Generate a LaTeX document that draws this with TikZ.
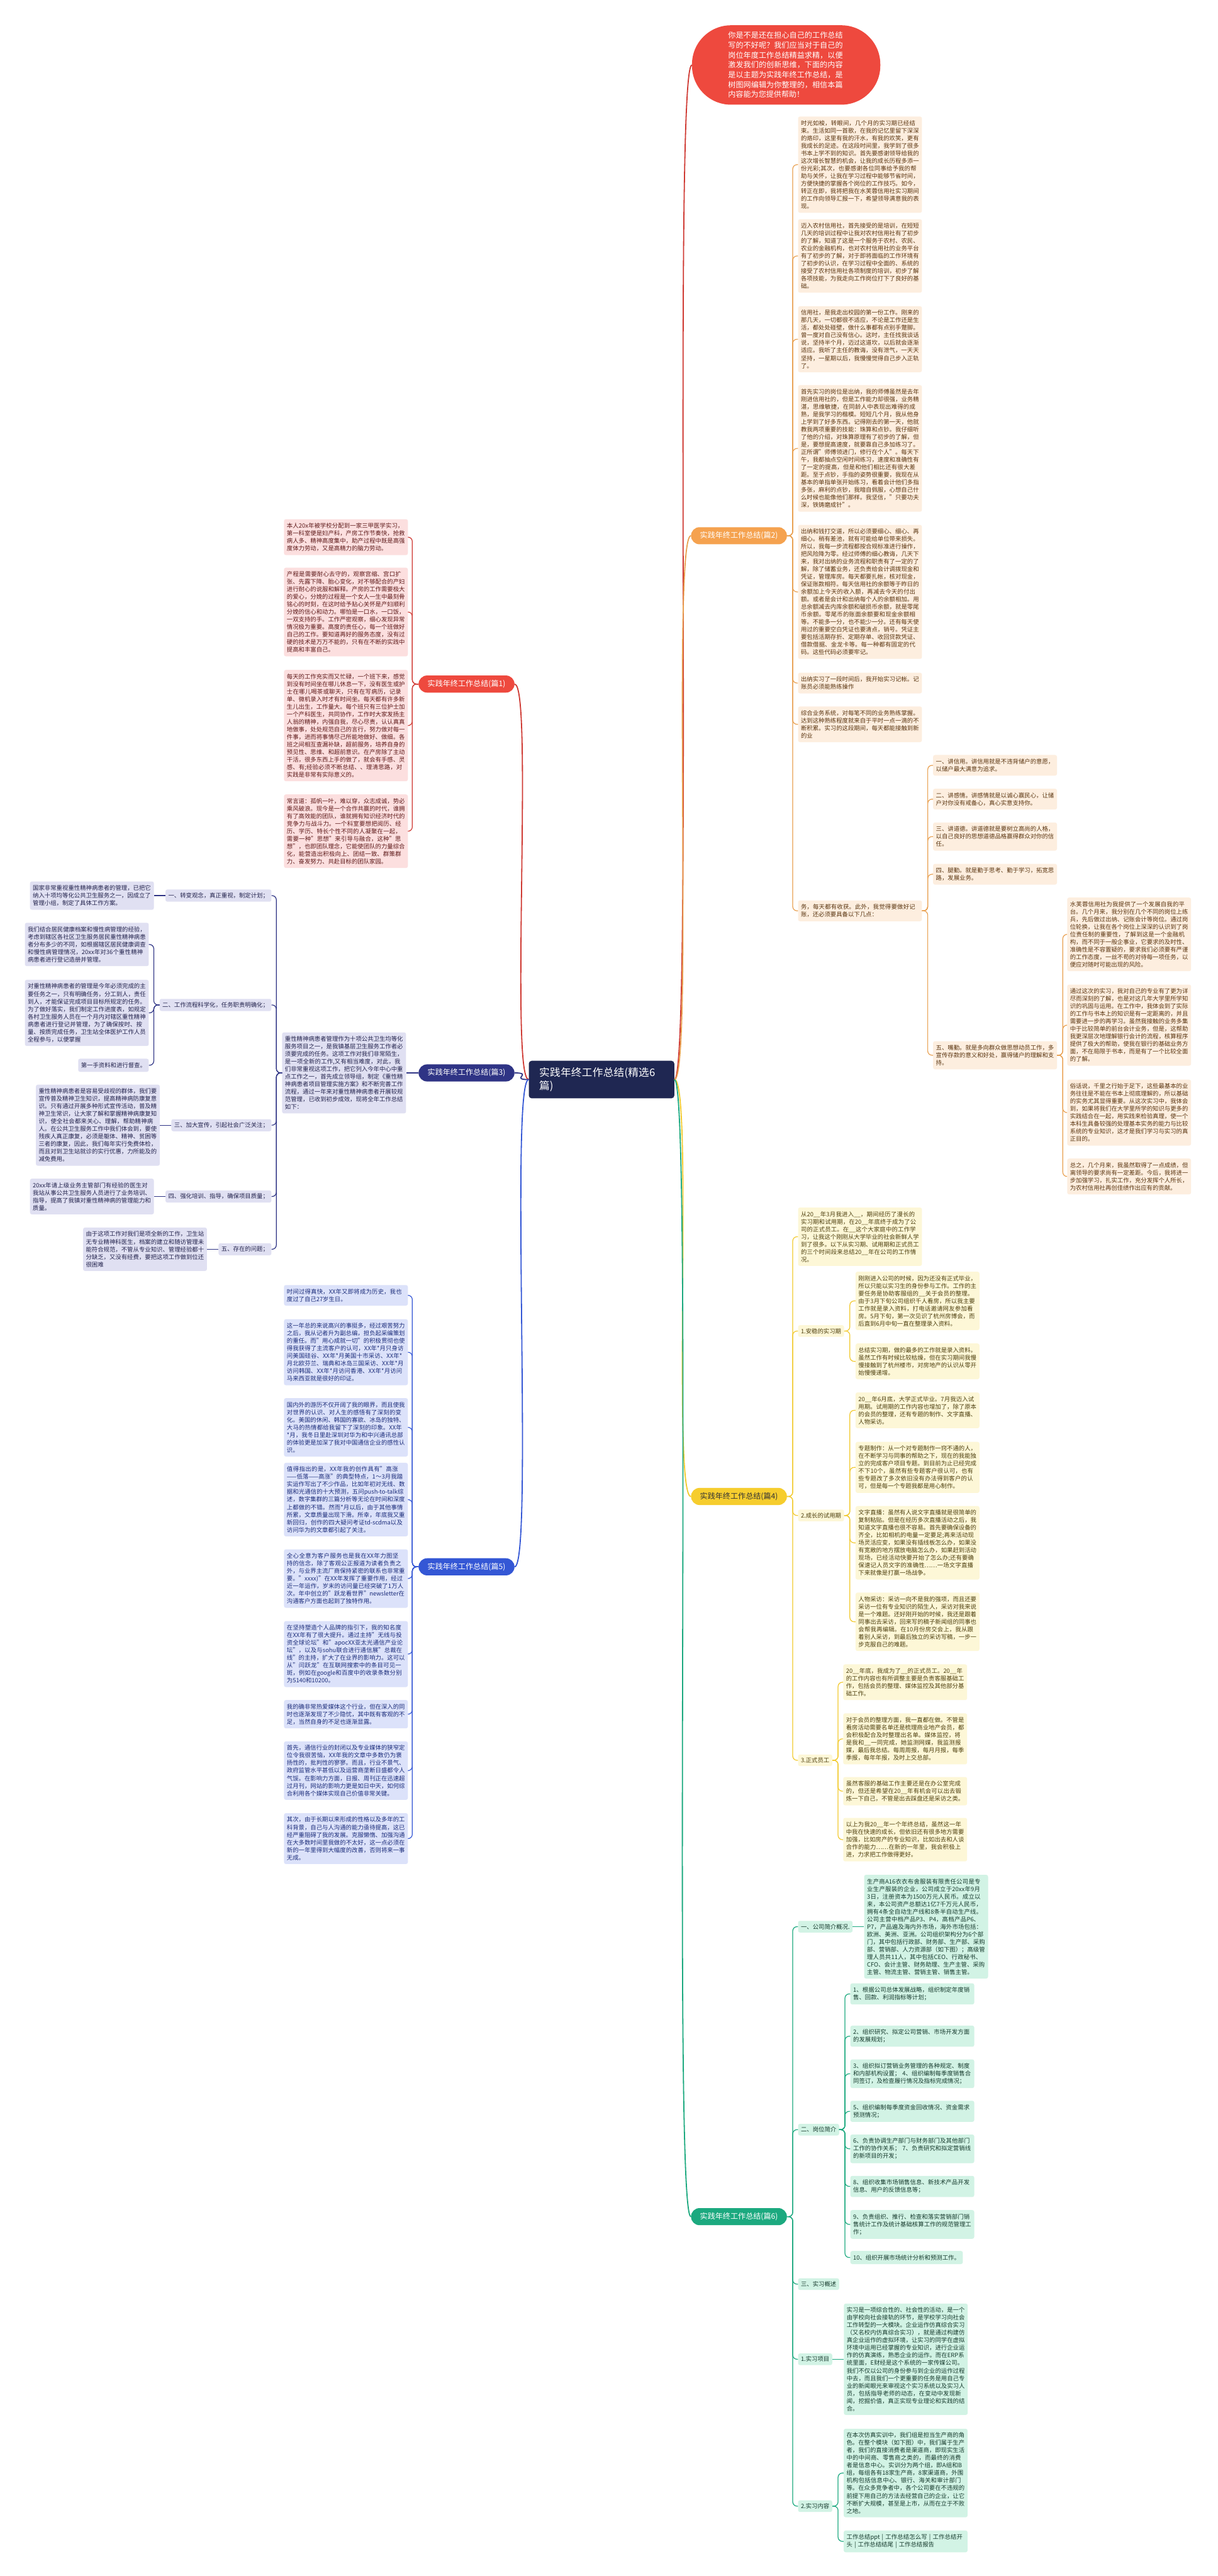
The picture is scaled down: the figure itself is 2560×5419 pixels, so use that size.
\documentclass[tikz,border=0pt]{standalone}
\usepackage{fontspec}
\setmainfont{Noto Sans CJK SC}
\XeTeXlinebreaklocale "zh"
\XeTeXlinebreakskip=0pt plus 1pt
\usetikzlibrary{positioning}

\definecolor{rootfill}{HTML}{1F2752}
\definecolor{redfill}{HTML}{EE493E}
\definecolor{redline}{HTML}{CF3A33}
\definecolor{pinkfill}{HTML}{FCDFDF}
\definecolor{pinktext}{HTML}{5E1A1A}
\definecolor{orangefill}{HTML}{F5A24F}
\definecolor{orangeline}{HTML}{E9A050}
\definecolor{peachfill}{HTML}{FDEEDF}
\definecolor{peachtext}{HTML}{5A3510}
\definecolor{navyfill}{HTML}{2F3485}
\definecolor{navyline}{HTML}{2F3485}
\definecolor{lavfill}{HTML}{E0E0F2}
\definecolor{lavtext}{HTML}{23234D}
\definecolor{bluefill}{HTML}{3457D5}
\definecolor{blueline}{HTML}{3457D5}
\definecolor{skyfill}{HTML}{DCE2FA}
\definecolor{skytext}{HTML}{1B2C7A}
\definecolor{yellowfill}{HTML}{F6CD2E}
\definecolor{yellowline}{HTML}{F2CA2E}
\definecolor{creamfill}{HTML}{FDF7D7}
\definecolor{creamtext}{HTML}{4D3F0E}
\definecolor{greenfill}{HTML}{1CA97F}
\definecolor{greenline}{HTML}{1CA97F}
\definecolor{mintfill}{HTML}{D2F3E5}
\definecolor{minttext}{HTML}{163A2D}

\newcommand{\leaffont}{\fontsize{12.4pt}{15.9pt}\selectfont}
\newcommand{\branchfont}{\fontsize{16pt}{19pt}\selectfont}
\newcommand{\rootfont}{\fontsize{22pt}{28pt}\selectfont}
\newcommand{\introfont}{\fontsize{16pt}{20.7pt}\selectfont}

\begin{document}
\begin{tikzpicture}[x=1pt, y=-1pt,
    leaf/.style={rounded corners=4pt, inner xsep=6pt, inner ysep=8pt, text width=248.5pt, align=left, font=\leaffont},
    tag/.style={rounded corners=4pt, inner xsep=6pt, inner ysep=6.5pt, font=\leaffont},
    branch/.style={rounded corners=18pt, minimum height=36pt, inner xsep=19pt, font=\branchfont, text=white},
    link/.style={line width=1.6pt, rounded corners=9pt},
    mainlink/.style={line width=2.4pt},
    pinkleaf/.style={leaf, fill=pinkfill, text=pinktext},
    peachleaf/.style={leaf, fill=peachfill, text=peachtext},
    lavleaf/.style={leaf, fill=lavfill, text=lavtext},
    lavtag/.style={tag, fill=lavfill, text=lavtext},
    skyleaf/.style={leaf, fill=skyfill, text=skytext},
    creamleaf/.style={leaf, fill=creamfill, text=creamtext},
    creamtag/.style={tag, fill=creamfill, text=creamtext},
    mintleaf/.style={leaf, fill=mintfill, text=minttext},
    minttag/.style={tag, fill=mintfill, text=minttext}]

\useasboundingbox (0,0) rectangle (2560,5419);
\fill[white] (0,0) rectangle (2560,5419);

% root and intro
\node[fill=rootfill, text=white, rounded corners=6pt, inner xsep=22pt, inner ysep=14pt, text width=262pt, align=left, font=\rootfont] (root) at (1265,2271) {实践年终工作总结(精选6篇)};
\node[fill=redfill, text=white, rounded corners=82pt, inner xsep=76pt, inner ysep=14pt, text width=244pt, align=left, font=\introfont, anchor=north west] (intro) at (1455,53) {你是不是还在担心自己的工作总结写的不好呢？我们应当对于自己的岗位年度工作总结精益求精，以便激发我们的创新思维，下面的内容是以主题为实践年终工作总结，是树图网编辑为你整理的，相信本篇内容能为您提供帮助！};

% branch nodes
\node[branch, fill=orangefill, anchor=east] (p2) at (1655,1127) {实践年终工作总结(篇2)};
\node[branch, fill=yellowfill, text=black!80, anchor=east] (p4) at (1655,3148) {实践年终工作总结(篇4)};
\node[branch, fill=greenfill, anchor=east] (p6) at (1655,4663) {实践年终工作总结(篇6)};
\node[branch, fill=redfill, anchor=west] (p1) at (880,1439) {实践年终工作总结(篇1)};
\node[branch, fill=navyfill, anchor=west] (p3) at (880,2257) {实践年终工作总结(篇3)};
\node[branch, fill=bluefill, anchor=west] (p5) at (880,3296) {实践年终工作总结(篇5)};

% piece 2
\node[peachleaf, anchor=north west] (o1) at (1678,245) {时光如梭，转眼间，几个月的实习期已经结束。生活如同一首歌，在我的记忆里留下深深的烙印，这里有我的汗水，有我的欢笑，更有我成长的足迹。在这段时间里，我学到了很多书本上学不到的知识。首先要感谢领导给我的这次增长智慧的机会，让我的成长历程多添一份光彩;其次，也要感谢各位同事给予我的帮助与关怀，让我在学习过程中能够节省时间，方便快捷的掌握各个岗位的工作技巧。如今，转正在即，我将把我在水芙蓉信用社实习期间的工作向领导汇报一下，希望领导满意我的表现。};
\node[peachleaf, anchor=north west] (o2) at (1678,461) {迈入农村信用社，首先接受的是培训，在短短几天的培训过程中让我对农村信用社有了初步的了解，知道了这是一个服务于农村、农民、农业的金融机构，也对农村信用社的业务平台有了初步的了解，对于即将面临的工作环境有了初步的认识，在学习过程中全面的、系统的接受了农村信用社各项制度的培训，初步了解各项技能，为我走向工作岗位打下了良好的基础。};
\node[peachleaf, anchor=north west] (o3) at (1678,644) {信用社，是我走出校园的第一份工作。刚来的那几天，一切都很不适应，不论是工作还是生活，都处处碰壁，做什么事都有点别手蹩脚。曾一度对自己没有信心。这时，主任找我谈话说，坚持半个月，迈过这道坎，以后就会逐渐适应。我听了主任的教诲，没有泄气，一天天坚持，一星期以后，我慢慢觉得自己步入正轨了。};
\node[peachleaf, anchor=north west] (o4) at (1678,810) {首先实习的岗位是出纳，我的师傅虽然是去年刚进信用社的，但是工作能力却很强，业务精湛，思维敏捷，在同龄人中表现出难得的成熟，是我学习的楷模。短短几个月，我从他身上学到了好多东西。记得刚去的第一天，他就教我两项重要的技能：珠算和点钞。我仔细听了他的介绍，对珠算原理有了初步的了解，但是，要想提高速度，就要靠自己多加练习了。正所谓"师傅领进门，修行在个人"。每天下午，我都抽点空闲时间练习，速度和准确性有了一定的提高，但是和他们相比还有很大差距。至于点钞，手指的姿势很重要，我现在从基本的单指单张开始练习，看着会计他们多指多张，麻利的点钞，我暗自佩服，心想自己什么时候也能像他们那样。我坚信，"只要功夫深，铁铸磨成针"。};
\node[peachleaf, anchor=north west] (o5) at (1678,1104) {出纳和钱打交道，所以必须要细心、细心、再细心。稍有差池，就有可能给单位带来损失。所以，我每一步流程都按合规标准进行操作，把风险降为零。经过师傅的细心教诲，几天下来，我对出纳的业务流程和职责有了一定的了解，除了储蓄业务，还负责给会计调拨现金和凭证，管理库房。每天都要扎帐，核对现金，保证账款相符。每天信用社的余额等于昨日的余额加上今天的收入额，再减去今天的付出额。或者是会计和出纳每个人的余额相加。用总余额减去内库余额和破损币余额，就是零尾币余额。零尾币的账面余额要和现金余额相等。不能多一分，也不能少一分。还有每天使用过的重要空白凭证也要清点，销号。凭证主要包括活期存折、定期存单、收回贷款凭证、借款借据、金龙卡等。每一种都有固定的代码。这些代码必须要牢记。};
\node[peachleaf, anchor=north west] (o6) at (1678,1415) {出纳实习了一段时间后，我开始实习记帐。记账员必须能熟练操作};
\node[peachleaf, anchor=north west] (o7) at (1678,1486) {综合业务系统，对每笔不同的业务熟练掌握。达到这种熟练程度就来自于平时一点一滴的不断积累。实习的这段期间，每天都能接触到新的业};
\node[peachleaf, anchor=north west] (o8) at (1678,1894) {务，每天都有收获。此外，我觉得要做好记账，还必须要具备以下几点：};
\node[peachleaf, anchor=north west] (oa) at (1962,1588) {一、讲信用。讲信用就是不违背储户的意愿，以储户最大满意为追求。};
\node[peachleaf, anchor=north west] (ob) at (1962,1659) {二、讲感情。讲感情就是以诚心赢民心，让储户对你没有戒备心，真心实意支持你。};
\node[peachleaf, anchor=north west] (oc) at (1962,1730) {三、讲道德。讲道德就是要树立高尚的人格，以自己良好的思想道德品格赢得群众对你的信任。};
\node[peachleaf, anchor=north west] (od) at (1962,1817) {四、腿勤。就是勤于思考、勤于学习，拓宽思路，发展业务。};
\node[peachleaf, anchor=north west] (oe) at (1962,2190) {五、嘴勤。就是多向群众做思想动员工作，多宣传存款的意义和好处，赢得储户的理解和支持。};
\node[peachleaf, anchor=north west] (oe1) at (2244,1888) {水芙蓉信用社为我提供了一个发展自我的平台。几个月来，我分别在几个不同的岗位上练兵，先后做过出纳、记账会计等岗位。通过岗位轮换，让我在各个岗位上深深的认识到了岗位责任制的重要性，了解到这是一个金融机构，而不同于一般企事业，它要求的及时性、准确性是不容置疑的，要求我们必须要有严谨的工作态度，一丝不苟的对待每一项任务，以便应对随时可能出现的风险。};
\node[peachleaf, anchor=north west] (oe2) at (2244,2071) {通过这次的实习，我对自己的专业有了更为详尽而深刻的了解，也是对这几年大学里所学知识的巩固与运用。在工作中，我体会到了实际的工作与书本上的知识是有一定距离的，并且需要进一步的再学习。虽然我接触的业务多集中于比较简单的前台会计业务，但是，这帮助我更深层次地理解银行会计的流程，核算程序提供了极大的帮助，使我在银行的基础业务方面，不在局限于书本，而是有了一个比较全面的了解。};
\node[peachleaf, anchor=north west] (oe3) at (2244,2271) {俗话说，千里之行始于足下，这些最基本的业务往往是不能在书本上彻底理解的，所以基础的实务尤其显得重要。从这次实习中，我体会到，如果将我们在大学里所学的知识与更多的实践结合在一起，用实践来检验真理，使一个本科生具备较强的处理基本实务的能力与比较系统的专业知识，这才是我们学习与实习的真正目的。};
\node[peachleaf, anchor=north west] (oe4) at (2244,2437) {总之，几个月来，我虽然取得了一点成绩，但离领导的要求尚有一定差距。今后，我将进一步加强学习，扎实工作，充分发挥个人所长，为农村信用社再创佳绩作出应有的贡献。};

% piece 4
\node[creamleaf, anchor=north west] (y0) at (1678,2540) {从20\_\_年3月我进入\_\_，期间经历了漫长的实习期和试用期，在20\_\_年底终于成为了公司的正式员工。在\_\_这个大家庭中的工作学习，让我这个刚刚从大学毕业的社会新鲜人学到了很多。以下从实习期、试用期和正式员工的三个时间段来总结20\_\_年在公司的工作情况。};
\node[creamtag, anchor=west] (y1) at (1678,2800) {1.安稳的实习期};
\node[creamleaf, anchor=north west] (y11) at (1799,2675) {刚刚进入公司的时候，因为还没有正式毕业，所以只能以实习生的身份参与工作。工作的主要任务是协助客服组的\_\_关于会员的整理。由于3月下旬公司组织千人看房，所以我主要工作就是录入资料，打电话邀请网友参加看房。5月下旬，第一次见识了杭州房博会，而后直到6月中旬一直在整理录入资料。};
\node[creamleaf, anchor=north west] (y12) at (1799,2826) {总结实习期，做的最多的工作就是录入资料。虽然工作有时候比较枯燥，但在实习期间我慢慢接触到了杭州楼市，对房地产的认识从零开始慢慢递增。};
\node[creamtag, anchor=west] (y2) at (1678,3188) {2.成长的试用期};
\node[creamleaf, anchor=north west] (y21) at (1799,2929) {20\_\_年6月底，大学正式毕业。7月我迈入试用期。试用期的工作内容也增加了，除了原本的会员的整理，还有专题的制作、文字直播、人物采访。};
\node[creamleaf, anchor=north west] (y22) at (1799,3033) {专题制作：从一个对专题制作一窍不通的人，在不断学习与同事的帮助之下，现在的我能独立的完成客户项目专题。到目前为止已经完成不下10个，虽然有些专题客户很认可，也有些专题改了多次依旧没有办法得到客户的认可，但是每一个专题我都是用心制作。};
\node[creamleaf, anchor=north west] (y23) at (1799,3168) {文字直播：虽然有人说文字直播就是很简单的复制粘贴。但是在经历多次直播活动之后，我知道文字直播也很不容易。首先要确保设备的齐全，比如相机的电量一定要足;再来活动现场灵活应变，如果没有插线板怎么办，如果没有宽敞的地方摆放电脑怎么办，如果赶到活动现场，已经活动快要开始了怎么办;还有要确保速记人员文字的准确性……一场文字直播下来就像是打赢一场战争。};
\node[creamleaf, anchor=north west] (y24) at (1799,3350) {人物采访：采访一向不是我的强项，而且还要采访一位有专业知识的陌生人，采访对我来说是一个难题。还好刚开始的时候，我还是跟着同事出去采访，回来写的稿子新闻组的同事也会帮我再编辑。在10月份房交会上，我从跟着别人采访，到最后独立的采访写稿，一步一步克服自己的难题。};
\node[creamtag, anchor=west] (y3) at (1678,3703) {3.正式员工};
\node[creamleaf, anchor=north west] (y31) at (1773,3501) {20\_\_年底，我成为了\_\_的正式员工。20\_\_年的工作内容也有所调整主要是负责客服基础工作，包括会员的整理、媒体监控及其他部分基础工作。};
\node[creamleaf, anchor=north west] (y32) at (1773,3604) {对于会员的整理方面，我一直都在做。不管是看房活动需要名单还是梳理商业地产会员，都会积极配合及时整理出名单。媒体监控，将是我和\_\_一同完成，她监测网媒，我监测报媒，最后我总结。每周周报，每月月报，每季季报，每年年报，及时上交总部。};
\node[creamleaf, anchor=north west] (y33) at (1773,3738) {虽然客服的基础工作主要还是在办公室完成的，但还是希望在20\_\_年有机会可以出去锻炼一下自己，不管是出去踩盘还是采访之类。};
\node[creamleaf, anchor=north west] (y34) at (1773,3824) {以上为我20\_\_年一个年终总结，虽然这一年中我在快速的成长，但依旧还有很多地方需要加强，比如房产的专业知识，比如出去和人谈合作的能力……在新的一年里，我会积极上进，力求把工作做得更好。};

% piece 6
\node[minttag, anchor=west] (g1) at (1678,4053) {一、公司简介概况.};
\node[mintleaf, right=24pt of g1] (g11) {生产商A16衣衣布舍服装有限责任公司是专业生产服装的企业，公司成立于20xx年9月3日，注册资本为1500万元人民币。成立以来，本公司资产总额达1亿7千万元人民币，拥有4条全自动生产线和8条半自动生产线。公司主营中档产品P3、P4，高档产品P6、P7，产品遍及海内外市场，海外市场包括：欧洲、美洲、亚洲。公司组织架构分为6个部门，其中包括行政部、财务部、生产部、采购部、营销部、人力资源部（如下图）；高级管理人员共11人，其中包括CEO、行政秘书、CFO、会计主管、财务助理、生产主管、采购主管、物流主管、营销主管、销售主管。};
\node[minttag, anchor=west] (g2) at (1678,4480) {二、岗位简介};
\node[mintleaf, anchor=north west] (g21) at (1788,4172) {1、根据公司总体发展战略，组织制定年度销售、回款、利润指标等计划；};
\node[mintleaf, anchor=north west] (g22) at (1788,4261) {2、组织研究、拟定公司营销、市场开发方面的发展规划；};
\node[mintleaf, anchor=north west] (g23) at (1788,4332) {3、组织拟订营销业务管理的各种规定、制度和内部机构设置； 4、组织编制每季度销售合同签订，及检查履行情况及指标完成情况；};
\node[mintleaf, anchor=north west] (g24) at (1788,4419) {5、组织编制每季度资金回收情况、资金需求预测情况；};
\node[mintleaf, anchor=north west] (g25) at (1788,4490) {6、负责协调生产部门与财务部门及其他部门工作的协作关系； 7、负责研究和拟定营销线的新项目的开发；};
\node[mintleaf, anchor=north west] (g26) at (1788,4577) {8、组织收集市场销售信息、新技术产品开发信息、用户的反馈信息等；};
\node[mintleaf, anchor=north west] (g27) at (1788,4649) {9、负责组织、推行、检查和落实营销部门销售统计工作及统计基础核算工作的规范管理工作；};
\node[minttag, inner ysep=8pt, anchor=north west] (g28) at (1788,4735) {10、组织开展市场统计分析和预测工作。};
\node[minttag, anchor=west] (g3) at (1678,4805) {三、实习概述};
\node[minttag, anchor=west] (g4) at (1678,4963) {1.实习项目};
\node[mintleaf, right=24pt of g4] (g41) {实习是一项综合性的、社会性的活动，是一个由学校向社会接轨的环节，是学校学习向社会工作转型的一大模块。企业运作仿真综合实习（又名校内仿真综合实习），就是通过构建仿真企业运作的虚拟环境，让实习的同学在虚拟环境中运用已经掌握的专业知识，进行企业运作的仿真演练，熟悉企业的运作。而在ERP系统里面，E财经是这个系统的一家传媒公司。我们不仅以公司的身份参与到企业的运作过程中去，而且我们一个更重要的任务是用自己专业的新闻眼光来审视这个实习系统以及实习人员，包括指导老师的动态，在变动中发现新闻，挖掘价值，真正实现专业理论和实践的结合。};
\node[minttag, anchor=west] (g5) at (1678,5272) {2.实习内容};
\node[mintleaf, anchor=north west] (g51) at (1774,5109) {在本次仿真实训中，我们组是担当生产商的角色。在整个模块（如下图）中，我们属于生产者，我们的直接消费者是渠道商，即现实生活中的中间商、零售商之类的，而最终的消费者是信息中心。实训分为两个组，即A组和B组，每组各有18家生产商，8家渠道商，外围机构包括信息中心、银行、海关和审计部门等。在众多竞争者中，各个公司要在不违规的前提下用自己的方法去经营自己的企业，让它不断扩大规模，甚至是上市，从而在立于不败之地。};
\node[mintleaf, anchor=north west] (g52) at (1774,5323) {工作总结ppt | 工作总结怎么写 | 工作总结开头 | 工作总结结尾 | 工作总结报告};

% piece 1
\node[pinkleaf, anchor=north west] (r0) at (597,1092) {本人20x年被学校分配到一家三甲医学实习，第一科室便是妇产科，产房工作节奏快，抢救病人多、精神高度集中，助产过程中既是高强度体力劳动，又是高精力的脑力劳动。};
\node[pinkleaf, anchor=north west] (r1) at (597,1194) {产程是需要耐心去守的，观察宫缩、宫口扩张、先露下降、胎心变化，对不够配合的产妇进行耐心的说服和解释。产房的工作需要极大的爱心，分娩的过程是一个女人一生中最刻骨铭心的时刻，在这时给予贴心关怀是产妇顺利分娩的信心和动力。哪怕是一口水，一口饭，一双支持的手。工作严密观察，细心发现异常情况极为重要。高度的责任心，每一个班做好自己的工作。要知道再好的服务态度，没有过硬的技术是万万不能的，只有在不断的实践中提高和丰富自己。};
\node[pinkleaf, anchor=north west] (r2) at (597,1409) {每天的工作充实而又忙碌，一个班下来，感觉到没有时间坐在哪儿休息一下，没有医生或护士在哪儿喝茶或聊天，只有在写病历，记录单、微机录入时才有时间坐。每天都有许多新生儿出生，工作量大。每个班只有三位护士加一个产科医生，共同协作，工作时大家发扬主人翁的精神，内强自我，尽心尽责，认认真真地做事，处处规范自己的言行，努力做对每一件事，进而将事情尽己所能地做好、做细。各班之间相互查漏补缺，超前服务，培养自身的预见性、思维、和超前意识。在产房除了主动干活，很多东西上手的做了，就会有手感、灵感、有;经验必须不断总结、、理清思路，对实践是非常有实际意义的。};
\node[pinkleaf, anchor=north west] (r3) at (597,1671) {常言道：孤帆一叶，难以穿，众志成诚，势必乘风破浪。现今是一个合作共赢的时代，谁拥有了高效能的团队，谁就拥有知识经济时代的竞争力与战斗力。一个科室要想把阅历、经历、学历、特长个性不同的人凝聚在一起，需要一种"思想"来引导与融合，这种"思想"，也即团队理念，它能使团队的力量综合化，能营造出积极向上、团结一致、群策群力、奋发努力、共赴目标的团队家园。};

% piece 3
\node[lavleaf, left=26pt of p3] (n0) {重性精神病患者管理作为十项公共卫生均等化服务项目之一，是我镇基层卫生服务工作者必须要完成的任务。这项工作对我们非常陌生，是一项全新的工作,又有相当难度，对此，我们非常重视这项工作，把它列入今年中心中重点工作之一，首先成立领导组，制定《重性精神病患者项目管理实施方案》和不断完善工作流程，通过一年来对重性精神病患者开展较规范管理，已收到初步成效，现将全年工作总结如下：};
\node[lavtag, anchor=east] (n1) at (571,1884) {一、转变观念，真正重视，制定计划；};
\node[lavtag, anchor=east] (n2) at (571,2114) {二、工作流程科学化，任务职责明确化；};
\node[lavtag, anchor=east] (n3) at (571,2367) {三、加大宣传，引起社会广泛关注；};
\node[lavtag, anchor=east] (n4) at (571,2517) {四、强化培训、指导，确保项目质量；};
\node[lavtag, anchor=east] (n5) at (571,2628) {五、存在的问题；};
\node[lavleaf, left=24pt of n1] (n1a) {国家非常重视重性精神病患者的管理，已把它纳入十项均等化公共卫生服务之一，因成立了管理小组，制定了具体工作方案。};
\node[lavleaf, anchor=north east] (n2a) at (313,1941) {我们结合居民健康档案和慢性病管理的经验，考虑到辖区各社区卫生服务居民重性精神病患者分布多少的不同，如根据辖区居民健康调查和慢性病管理情况，20xx年对36个重性精神病患者进行登记造册并管理。};
\node[lavleaf, anchor=north east] (n2b) at (313,2061) {对重性精神病患者的管理是今年必须完成的主要任务之一，只有明确任务，分工到人，责任到人，才能保证完成项目目标所规定的任务。为了做好落实，我们制定工作进度表，如规定各村卫生服务人员在一个月内对辖区重性精神病患者进行登记并管理，为了确保按时、按量、按质完成任务，卫生站全体医护工作人员全程参与，以便掌握};
\node[lavtag, inner ysep=8pt, anchor=north east] (n2c) at (313,2227) {第一手资料和进行督查。};
\node[lavleaf, left=24pt of n3] (n3a) {重性精神病患者是容易受歧视的群体，我们要宣传普及精神卫生知识，提高精神病防康复意识。只有通过开展多种形式宣传活动，普及精神卫生常识，让大家了解和掌握精神病康复知识，使全社会都来关心、理解，帮助精神病人。在公共卫生服务工作中我们体会到，要使残疾人真正康复，必须是躯体、精神、贫困等三者的康复，因此，我们每年实行免费体检，而且对到卫生站就诊的实行优惠，力所能及的减免费用。};
\node[lavleaf, left=24pt of n4] (n4a) {20xx年请上级业务主管部门有经验的医生对我站从事公共卫生服务人员进行了业务培训、指导，提高了我镇对重性精神病的管理能力和质量。};
\node[lavleaf, left=24pt of n5] (n5a) {由于这项工作对我们是项全新的工作，卫生站无专业精神科医生，档案的建立和随访管理未能符合规范，不管从专业知识、管理经验都十分缺乏，又没有经费，要把这项工作做到位还很困难};

% piece 5
\node[skyleaf, anchor=north west] (s1) at (597,2703) {时间过得真快，XX年又即将成为历史，我也度过了自己27岁生日。};
\node[skyleaf, anchor=north west] (s2) at (597,2775) {这一年总的来说高兴的事挺多，经过艰苦努力之后，我从记者升为副总编，担负起采编策划的重任。而"用心成就一切"的积极贯彻也使得我获得了主流客户的认可，XX年*月只身访问美国硅谷、XX年*月美国十市采访、XX年*月北欧芬兰、瑞典和冰岛三国采访、XX年*月访问韩国、XX年*月访问香港、XX年*月访问马来西亚就是很好的印证。};
\node[skyleaf, anchor=north west] (s3) at (597,2941) {国内外的游历不仅开阔了我的眼界，而且使我对世界的认识、对人生的感悟有了深刻的变化。美国的休闲、韩国的寡欲、冰岛的独特、大马的热情都给我留下了深刻的印象。XX年*月，我冬日里赴深圳对华为和中兴通讯总部的体验更是加深了我对中国通信企业的感性认识。};
\node[skyleaf, anchor=north west] (s4) at (597,3077) {值得指出的是，XX年我的创作具有"高涨——低落——高涨"的典型特点，1～3月我踏实运作写出了不少作品，比如年初对无线、数据和光通信的十大预测，五问push-to-talk综述，数字集群的三篇分析等无论在时间和深度上都做的不错。然而*月以后，由于其他事情所累，文章质量出现下滑。所幸，年底我又重新回归，创作的四大疑问考证td-scdma以及访问华为的文章都引起了关注。};
\node[skyleaf, anchor=north west] (s5) at (597,3259) {全心全意为客户服务也是我在XX年力图坚持的信念，除了客观公正报道为读者负责之外，与业界主流厂商保持紧密的联系也非常重要。"xxxx)"在XX年发挥了重要作用，经过近一年运作，岁末的访问量已经突破了1万人次。年中创立的"跃龙看世界"newsletter在沟通客户方面也起到了独特作用。};
\node[skyleaf, anchor=north west] (s6) at (597,3410) {在坚持塑造个人品牌的指引下，我的知名度在XX年有了很大提升。通过主持"无线与投资全球论坛"和"apocXX亚太光通信产业论坛"，以及与sohu联合进行通信展"总裁在线"的主持，扩大了在业界的影响力。这可以从"闫跃龙"在互联网搜索中的条目可见一斑，例如在google和百度中的收录条数分别为5140和10200。};
\node[skyleaf, anchor=north west] (s7) at (597,3576) {我的确非常热爱媒体这个行业，但在深入的同时也逐渐发现了不少隐忧，其中既有客观的不足，当然自身的不足也逐渐显露。};
\node[skyleaf, anchor=north west] (s8) at (597,3663) {首先，通信行业的封闭以及专业媒体的狭窄定位令我很苦恼，XX年我的文章中多数仍为褒扬性的，批判性的寥寥。而且，行业不景气、政府监管水平甚低以及运营商垄断日盛都令人气馁。在影响力方面，日报、周刊正在迅速超过月刊，网站的影响力更是如日中天，如何综合利用各个媒体实现自己价值非常关键。};
\node[skyleaf, anchor=north west] (s9) at (597,3814) {其次，由于长期以来形成的性格以及多年的工科背景，自己与人沟通的能力亟待提高，这已经严重阻碍了我的发展。克服懒惰、加强沟通在大多数时间里我做的不太好，这一点必须在新的一年里得到大幅度的改善，否则将来一事无成。};

% root links
\draw[mainlink, redline] (root.east) .. controls +(40,0) and +(-40,0) .. (intro.west);
\draw[mainlink, orangeline] (root.east) .. controls +(40,0) and +(-40,0) .. (p2.west);
\draw[mainlink, yellowline] (root.east) .. controls +(40,0) and +(-40,0) .. (p4.west);
\draw[mainlink, greenline] (root.east) .. controls +(40,0) and +(-40,0) .. (p6.west);
\draw[mainlink, redline] (root.west) .. controls +(-40,0) and +(40,0) .. (p1.east);
\draw[mainlink, navyline] (root.west) .. controls +(-40,0) and +(40,0) .. (p3.east);
\draw[mainlink, blueline] (root.west) .. controls +(-40,0) and +(40,0) .. (p5.east);

% branch links, right side
\foreach \c in {o1,o2,o3,o4,o5,o6,o7,o8}
  \draw[link, orangeline] (p2.east) -- ++(12,0) |- (\c.west);
\foreach \c in {oa,ob,oc,od,oe}
  \draw[link, orangeline] (o8.east) -- ++(12,0) |- (\c.west);
\foreach \c in {oe1,oe2,oe3,oe4}
  \draw[link, orangeline] (oe.east) -- ++(12,0) |- (\c.west);
\foreach \c in {y0,y1,y2,y3}
  \draw[link, yellowline] (p4.east) -- ++(12,0) |- (\c.west);
\foreach \c in {y11,y12}
  \draw[link, yellowline] (y1.east) -- ++(12,0) |- (\c.west);
\foreach \c in {y21,y22,y23,y24}
  \draw[link, yellowline] (y2.east) -- ++(12,0) |- (\c.west);
\foreach \c in {y31,y32,y33,y34}
  \draw[link, yellowline] (y3.east) -- ++(12,0) |- (\c.west);
\foreach \c in {g1,g2,g3,g4,g5}
  \draw[link, greenline] (p6.east) -- ++(12,0) |- (\c.west);
\draw[link, greenline] (g1.east) -- (g11.west);
\foreach \c in {g21,g22,g23,g24,g25,g26,g27,g28}
  \draw[link, greenline] (g2.east) -- ++(12,0) |- (\c.west);
\draw[link, greenline] (g4.east) -- (g41.west);
\foreach \c in {g51,g52}
  \draw[link, greenline] (g5.east) -- ++(12,0) |- (\c.west);

% branch links, left side
\foreach \c in {r0,r1,r2,r3}
  \draw[link, redline] (p1.west) -- ++(-13,0) |- (\c.east);
\draw[link, navyline] (p3.west) -- (n0.east);
\foreach \c in {n1,n2,n3,n4,n5}
  \draw[link, navyline] (n0.west) -- ++(-12,0) |- (\c.east);
\draw[link, navyline] (n1.west) -- (n1a.east);
\foreach \c in {n2a,n2b,n2c}
  \draw[link, navyline] (n2.west) -- ++(-12,0) |- (\c.east);
\draw[link, navyline] (n3.west) -- (n3a.east);
\draw[link, navyline] (n4.west) -- (n4a.east);
\draw[link, navyline] (n5.west) -- (n5a.east);
\foreach \c in {s1,s2,s3,s4,s5,s6,s7,s8,s9}
  \draw[link, blueline] (p5.west) -- ++(-13,0) |- (\c.east);
\end{tikzpicture}
\end{document}
